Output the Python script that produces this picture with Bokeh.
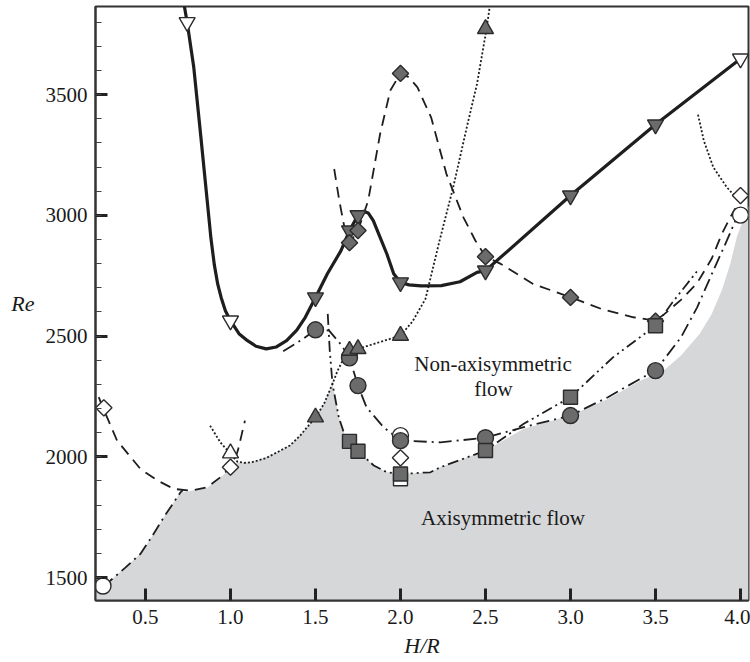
from bokeh.plotting import figure
from bokeh.models import Range1d, FixedTicker, SingleIntervalTicker, NumeralTickFormatter, Label
from bokeh.embed import file_html
from bokeh.resources import INLINE

# ---------------- data ----------------
x_ticks = [0.5, 1.0, 1.5, 2.0, 2.5, 3.0, 3.5, 4.0]

# grey "axisymmetric" region upper boundary
grey_x = [0.206, 0.25, 0.294, 0.47, 0.54, 0.608, 0.706, 0.765, 0.863, 0.94, 1.0, 1.04, 1.118, 1.157,
          1.275, 1.35, 1.41, 1.5, 1.55, 1.6, 1.637, 1.676, 1.70, 1.75, 1.843, 1.92, 2.0, 2.176,
          2.235, 2.5, 2.725, 3.0, 3.22, 3.41, 3.54, 3.65, 3.76, 3.83, 3.89, 3.94, 3.98, 4.03, 4.047]
grey_y = [1445, 1465, 1488, 1598, 1672, 1750, 1853, 1858, 1872, 1913, 1952, 1977, 1977, 1984,
          2019, 2047, 2088, 2164, 2219, 2302, 2164, 2081, 2064, 2023, 1964, 1936, 1929, 1936,
          1957, 2026, 2116, 2171, 2240, 2315, 2352, 2420, 2510, 2590, 2690, 2800, 2915, 3006, 3040]

# thick solid curve (inverted triangles)
solid_x = [0.729, 0.745, 0.784, 0.824, 0.863, 0.885, 0.905, 0.925, 0.945, 0.97, 1.0, 1.05, 1.10, 1.15,
           1.21, 1.27, 1.33, 1.39, 1.44, 1.5, 1.57, 1.65, 1.70, 1.75, 1.78, 1.81, 1.84, 1.88, 1.92,
           1.96, 2.0, 2.05, 2.12, 2.24, 2.35, 2.45, 2.5, 3.0, 3.5, 4.0]
solid_y = [3865, 3800, 3613, 3337, 3061, 2905, 2795, 2715, 2660, 2605, 2564, 2510, 2481, 2458,
           2447, 2455, 2481, 2525, 2578, 2660, 2758, 2854, 2937, 3000, 3017, 3010, 2978, 2909, 2840,
           2758, 2722, 2712, 2708, 2709, 2725, 2764, 2771, 3082, 3376, 3649]

# dashed curve (filled diamonds)
dash_x = [1.61, 1.64, 1.67, 1.70, 1.75, 1.81, 1.88, 1.94, 2.0, 2.05, 2.10, 2.18, 2.27, 2.37, 2.44,
          2.5, 2.59, 2.78, 3.0, 3.18, 3.37, 3.5, 3.55, 3.65, 3.745, 3.83, 3.89, 3.94, 3.97]
dash_y = [3192, 3061, 2951, 2887, 2937, 3061, 3337, 3517, 3588, 3572, 3530, 3406, 3172, 2992, 2896,
          2829, 2799, 2716, 2661, 2613, 2578, 2564, 2590, 2650, 2720, 2820, 2923, 2992, 3030]

# dotted curve (up triangles)
dot_x = [0.88, 0.94, 1.0, 1.04, 1.08, 1.118, 1.157, 1.21, 1.275, 1.35, 1.41, 1.5, 1.55, 1.6, 1.63,
         1.67, 1.70, 1.75, 2.0, 2.07, 2.147, 2.225, 2.31, 2.39, 2.45, 2.506, 2.525]
dot_y = [2129, 2060, 2012, 1980, 1975, 1977, 1984, 1995, 2019, 2047, 2088, 2164, 2219, 2302, 2357,
         2412, 2440, 2447, 2502, 2560, 2654, 2882, 3116, 3365, 3544, 3772, 3865]

# long dash-dot curve (filled circles)
dd_x = [1.31, 1.43, 1.5, 1.58, 1.65, 1.70, 1.75, 1.80, 1.90, 2.0, 2.235, 2.5, 2.725, 3.0, 3.22,
        3.41, 3.5, 3.65, 3.745, 3.84, 3.92, 3.97, 4.0]
dd_y = [2437, 2490, 2526, 2523, 2465, 2410, 2295, 2205, 2123, 2067, 2060, 2079, 2123, 2171, 2247,
        2323, 2357, 2495, 2619, 2771, 2896, 2978, 3001]

# dash-dot-dot curve (filled squares)
ddd_x = [1.572, 1.584, 1.60, 1.637, 1.676, 1.70, 1.75, 1.843, 1.92, 2.0, 2.176, 2.235, 2.5, 2.725,
         3.0, 3.25, 3.5, 3.6, 3.755]
ddd_y = [2592, 2440, 2302, 2164, 2081, 2064, 2023, 1964, 1936, 1929, 1936, 1957, 2026, 2137,
         2247, 2412, 2543, 2640, 2778]

# dashed curve on the left (open diamonds)
ldash_x = [0.225, 0.25, 0.333, 0.47, 0.57, 0.667, 0.765, 0.863, 0.94, 1.0, 1.02, 1.045, 1.065, 1.085]
ldash_y = [2247, 2203, 2067, 1950, 1902, 1867, 1860, 1874, 1915, 1957, 1975, 2030, 2090, 2150]

# dash-dot curve on the left (open circle)
ldd_x = [0.25, 0.294, 0.38, 0.47, 0.54, 0.608, 0.706, 0.72]
ldd_y = [1465, 1488, 1540, 1598, 1672, 1750, 1853, 1862]

# dotted curve near H/R = 4
rdot_x = [3.75, 3.784, 3.84, 3.92, 3.99]
rdot_y = [3417, 3310, 3199, 3116, 3061]

# markers
itri_open_x = [0.745, 1.0, 4.0]
itri_open_y = [3800, 2564, 3649]
itri_fill_x = [1.5, 1.7, 1.75, 2.0, 2.5, 3.0, 3.5]
itri_fill_y = [2660, 2937, 3000, 2722, 2771, 3082, 3376]
diam_fill_x = [1.7, 1.75, 2.0, 2.5, 3.0, 3.5]
diam_fill_y = [2887, 2937, 3588, 2829, 2660, 2562]
tri_fill_x = [1.5, 1.7, 1.75, 2.0, 2.5]
tri_fill_y = [2164, 2440, 2447, 2502, 3772]
tri_open_x = [1.0]
tri_open_y = [2015]
circ_fill_x = [1.5, 1.7, 1.75, 2.0, 2.5, 3.0, 3.5]
circ_fill_y = [2526, 2410, 2295, 2067, 2079, 2171, 2357]
circ_open_x = [0.25, 2.0, 4.0]
circ_open_y = [1465, 2088, 3001]
sq_fill_x = [1.7, 1.75, 2.0, 2.5, 3.0, 3.5]
sq_fill_y = [2064, 2023, 1929, 2026, 2247, 2543]
sq_open_x = [2.0]
sq_open_y = [1909]
diam_open_x = [0.255, 1.0, 2.0, 4.0]
diam_open_y = [2203, 1957, 1996, 3082]

# ---------------- figure ----------------
XMIN, XMAX, YMIN, YMAX = 0.206, 4.047, 1405, 3865
FONT = "Liberation Serif"
INK = "#1e1e1e"
MFILL = "#6b6b6b"
MLINE = "#2b2b2b"

p = figure(width=750, height=662, x_range=Range1d(XMIN, XMAX), y_range=Range1d(YMIN, YMAX),
           output_backend="svg", toolbar_location=None,
           min_border_left=95, min_border_right=2, min_border_top=6, min_border_bottom=62)
p.grid.visible = False
p.outline_line_color = "#333333"
p.outline_line_width = 2
p.background_fill_color = "white"

p.xaxis.ticker = FixedTicker(ticks=x_ticks)
p.xaxis.formatter = NumeralTickFormatter(format="0.0")
p.yaxis.ticker = SingleIntervalTicker(interval=500, num_minor_ticks=5)
for ax in (p.xaxis, p.yaxis):
    ax.axis_line_color = "#333333"
    ax.axis_line_width = 2
    ax.major_tick_in = 12
    ax.major_tick_out = 0
    ax.major_tick_line_width = 3
    ax.major_tick_line_color = "#222222"
    ax.minor_tick_in = 6
    ax.minor_tick_out = 0
    ax.minor_tick_line_width = 1.2
    ax.minor_tick_line_color = "#444444"
    ax.major_label_text_font = FONT
    ax.major_label_text_font_size = "21px"
    ax.major_label_text_color = "#1a1a1a"
    ax.axis_label_text_font = FONT
    ax.axis_label_text_font_size = "22px"
    ax.axis_label_text_font_style = "italic"
    ax.axis_label_text_color = "#1a1a1a"
p.xaxis.major_label_standoff = 9
p.yaxis.major_label_standoff = 8
p.xaxis.axis_label = "H/R"
p.xaxis.axis_label_standoff = 6
p.yaxis.axis_label = "Re"
p.yaxis.axis_label_orientation = "horizontal"
p.yaxis.axis_label_standoff = 8

# grey region
p.patch(grey_x + [XMAX, XMIN], grey_y + [YMIN, YMIN], fill_color="#d6d7d9", line_color=None)

# curves
p.line(ldash_x, ldash_y, line_color=INK, line_width=1.8, line_dash="11 7")
p.line(ldd_x, ldd_y, line_color=INK, line_width=1.8, line_dash="12 5 2 5")
p.line(rdot_x, rdot_y, line_color=INK, line_width=1.8, line_dash="2 2")
p.line(dot_x, dot_y, line_color=INK, line_width=1.8, line_dash="2 2")
p.line(dd_x, dd_y, line_color=INK, line_width=1.8, line_dash="13 5 2 5")
p.line(ddd_x, ddd_y, line_color=INK, line_width=1.8, line_dash="11 4 2 4 2 4")
p.line(dash_x, dash_y, line_color=INK, line_width=1.8, line_dash="11 7")
p.line(solid_x, solid_y, line_color=INK, line_width=3.2, line_join="round")

# markers
common = dict(line_color=MLINE, line_width=1.4)
p.scatter(circ_open_x, circ_open_y, marker="circle", size=16, fill_color="white", **common)
p.scatter(sq_open_x, sq_open_y, marker="square", size=14, fill_color="white", **common)
p.scatter(diam_open_x, diam_open_y, marker="square", angle=0.7854, size=11.5, fill_color="white", **common)
p.scatter(tri_open_x, tri_open_y, marker="triangle", size=16, fill_color="white", **common)
p.scatter(itri_open_x, itri_open_y, marker="inverted_triangle", size=16, fill_color="white", **common)
p.scatter(itri_fill_x, itri_fill_y, marker="inverted_triangle", size=16, fill_color=MFILL, **common)
p.scatter(diam_fill_x, diam_fill_y, marker="square", angle=0.7854, size=11.5, fill_color=MFILL, **common)
p.scatter(circ_fill_x, circ_fill_y, marker="circle", size=16, fill_color=MFILL, **common)
p.scatter(tri_fill_x, tri_fill_y, marker="triangle", size=16, fill_color=MFILL, **common)
p.scatter(sq_fill_x, sq_fill_y, marker="square", size=14, fill_color=MFILL, **common)

# region labels
for txt, lx, ly in [("Non-axisymmetric", 2.544, 2386), ("flow", 2.547, 2279),
                    ("Axisymmetric flow", 2.603, 1748)]:
    p.add_layout(Label(x=lx, y=ly, text=txt, text_font=FONT, text_font_size="21px",
                       text_align="center", text_baseline="middle", text_color="#1a1a1a"))

open("out.html", "w").write(file_html(p, INLINE))
